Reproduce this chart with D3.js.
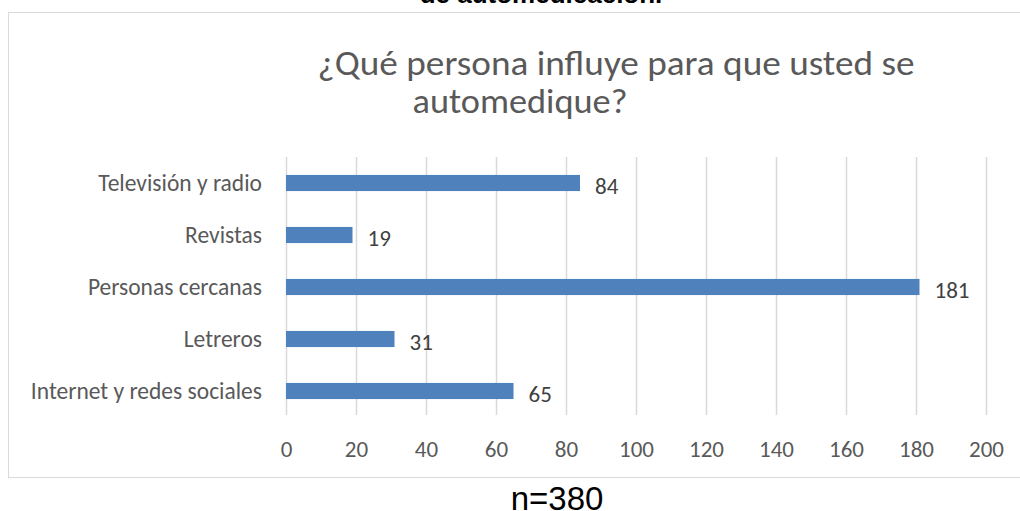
<!DOCTYPE html>
<html><head><meta charset="utf-8">
<script src="https://cdn.jsdelivr.net/npm/d3@7"></script>
<style>body{margin:0;background:#fff;} svg{display:block;}</style>
</head><body>
<svg id="c" width="1020" height="511"></svg>
<script>
const categories = ["Televisión y radio", "Revistas", "Personas cercanas", "Letreros", "Internet y redes sociales"];
const values = [84, 19, 181, 31, 65];
const xTicks = [0, 20, 40, 60, 80, 100, 120, 140, 160, 180, 200];
const titleLines = ["¿Qué persona influye para que usted se", "automedique?"];
const topText = "de automedicación.";
const footnote = "n=380";

const svg = d3.select("#c");
const font = "Carlito, Calibri, Lato, 'Open Sans', sans-serif";

// cut-off heading at top
svg.append("text").attr("x", 541).attr("y", 3).attr("text-anchor", "middle")
  .attr("font-family", "Liberation Sans, Arial, sans-serif").attr("font-weight", "bold")
  .attr("font-size", 26).attr("fill", "#000").text(topText);

// chart frame
svg.append("rect").attr("x", 8.5).attr("y", 12.5).attr("width", 1020).attr("height", 465)
  .attr("fill", "#fff").attr("stroke", "#d9d9d9").attr("stroke-width", 1);

const x = d3.scaleLinear().domain([0, 200]).range([286, 986]);
const y = d3.scaleBand().domain(categories).range([157, 417]).paddingInner(0.69).paddingOuter(0.345);

// gridlines
svg.append("g").selectAll("line").data(xTicks).join("line")
  .attr("x1", d => x(d) + 0.5).attr("x2", d => x(d) + 0.5)
  .attr("y1", 157).attr("y2", 415)
  .attr("stroke", "#d9d9d9").attr("stroke-width", 1.5);

// bars
svg.append("g").selectAll("rect").data(values).join("rect")
  .attr("x", x(0)).attr("y", (d, i) => y(categories[i]))
  .attr("width", d => x(d) - x(0)).attr("height", y.bandwidth())
  .attr("fill", "#4f81bd");

// value labels
svg.append("g").selectAll("text").data(values).join("text")
  .attr("x", d => x(d) + 15).attr("y", (d, i) => y(categories[i]) + y.bandwidth() / 2 + 11)
  .attr("font-family", font).attr("font-size", 23).attr("fill", "#404040").text(d => d);

// category labels
const yAxis = d3.axisLeft(y).tickSize(0).tickPadding(0);
const ya = svg.append("g").attr("transform", "translate(262,0)").call(yAxis);
ya.select(".domain").remove();
ya.selectAll("text").attr("font-family", font).attr("font-size", 23.5).attr("fill", "#595959").attr("dy", "0.35em");

// x tick labels
const xAxis = d3.axisBottom(x).tickValues(xTicks).tickSize(0).tickPadding(0);
const xa = svg.append("g").attr("transform", "translate(0,441)").call(xAxis);
xa.select(".domain").remove();
xa.selectAll("text").attr("font-family", font).attr("font-size", 23).attr("fill", "#595959");

// title
svg.append("text").attr("x", 616).attr("y", 75).attr("text-anchor", "middle")
  .attr("font-family", font).attr("font-size", 34)
  .attr("textLength", 597).attr("lengthAdjust", "spacingAndGlyphs")
  .attr("fill", "#595959").text(titleLines[0]);
svg.append("text").attr("x", 520).attr("y", 113).attr("text-anchor", "middle")
  .attr("font-family", font).attr("font-size", 34)
  .attr("textLength", 215).attr("lengthAdjust", "spacingAndGlyphs")
  .attr("fill", "#595959").text(titleLines[1]);

// footnote
svg.append("text").attr("x", 557).attr("y", 510).attr("text-anchor", "middle")
  .attr("font-family", "Liberation Sans, Arial, sans-serif").attr("font-size", 33).attr("fill", "#000").text(footnote);
</script>
</body></html>
